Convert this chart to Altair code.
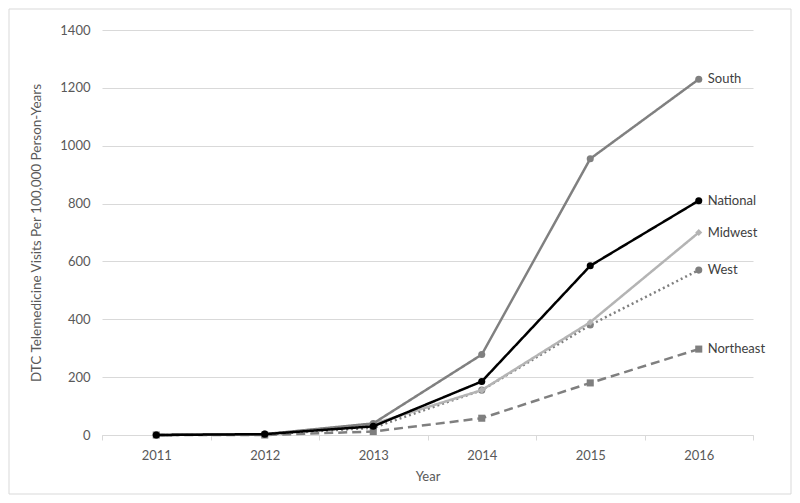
import altair as alt
import pandas as pd

years = ["2011", "2012", "2013", "2014", "2015", "2016"]
regions = ["South", "National", "Midwest", "West", "Northeast"]
south = [0, 3, 40, 278, 955, 1230]
national = [0, 3, 30, 185, 585, 810]
midwest = [0, 2, 38, 155, 390, 700]
west = [0, 2, 25, 155, 380, 570]
northeast = [0, 0, 12, 58, 180, 297]

series = {"South": south, "National": national, "Midwest": midwest,
          "West": west, "Northeast": northeast}
styles = {
    "South": ("#808080", [1, 0], "circle"),
    "National": ("#000000", [1, 0], "circle"),
    "Midwest": ("#b4b4b4", [1, 0], "diamond"),
    "West": ("#7f7f7f", [2, 3], "circle"),
    "Northeast": ("#7f7f7f", [9, 5], "square"),
}
draw_order = ["Northeast", "West", "Midwest", "South", "National"]

rows = []
for r in regions:
    for y, v in zip(years, series[r]):
        rows.append({"Year": y, "Region": r, "Value": v})
df = pd.DataFrame(rows)
last = df[df["Year"] == years[-1]]

xenc = alt.X("Year:N", sort=years, bandPosition=0.5,
             scale=alt.Scale(type="band", paddingInner=0, paddingOuter=0),
             axis=alt.Axis(title="Year", labelAngle=0, tickBand="extent",
                           domainColor="#d9d9d9", tickColor="#d9d9d9",
                           tickSize=5, labelPadding=9, titlePadding=8,
                           grid=False))
yenc = alt.Y("Value:Q", scale=alt.Scale(domain=[0, 1400], nice=False),
             axis=alt.Axis(title="DTC Telemedicine Visits Per 100,000 Person-Years",
                           values=[0, 200, 400, 600, 800, 1000, 1200, 1400],
                           format="d", domain=False, ticks=False, labelPadding=12,
                           titlePadding=16, titleFontSize=13.5, gridColor="#d9d9d9"))

frame = alt.Chart(pd.DataFrame({"a": [0]})).mark_rect(
    fill=None, stroke="#d9d9d9", strokeWidth=1, clip=False
).encode(x=alt.value(-93), x2=alt.value(689), y=alt.value(-21), y2=alt.value(464))

layers = [frame]
for r in draw_order:
    c, d, s = styles[r]
    sub = df[df["Region"] == r]
    layers.append(alt.Chart(sub).mark_line(strokeWidth=2.5, color=c, strokeDash=d)
                  .encode(x=xenc, y=yenc))
    layers.append(alt.Chart(sub).mark_point(filled=True, size=50, opacity=1,
                                            color=c, shape=s)
                  .encode(x=xenc, y=yenc))

labels = alt.Chart(last).mark_text(align="left", dx=9, fontSize=13,
                                   font="Lato", color="#404040").encode(
    x=xenc, y=yenc, text="Region:N"
)
layers.append(labels)

chart = alt.layer(*layers).properties(
    width=651, height=405,
    autosize=alt.AutoSizeParams(type="none"),
    padding={"left": 94, "top": 22, "right": 39, "bottom": 60},
).configure_axis(
    labelFont="Lato", titleFont="Lato", labelFontSize=13, titleFontSize=13,
    labelColor="#595959", titleColor="#595959", titleFontWeight="normal",
).configure_view(stroke=None)

chart.save("out.html", embed_options={"renderer": "svg", "actions": False})
